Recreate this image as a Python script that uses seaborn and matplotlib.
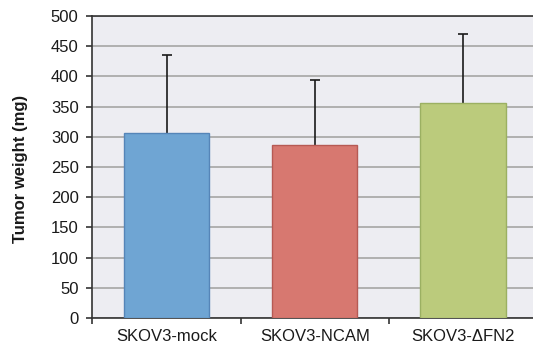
import matplotlib
matplotlib.use("Agg")
import matplotlib.pyplot as plt
import seaborn as sns
import pandas as pd
import numpy as np

groups = ["SKOV3-mock", "SKOV3-NCAM", "SKOV3-\u0394FN2"]
weights = [306, 287, 356]
errors = [129, 107, 114]
colors = ["#6FA5D3", "#D77870", "#BBCB7C"]
edges = ["#5585B8", "#B65A54", "#9BB062"]
y_ticks = [0, 50, 100, 150, 200, 250, 300, 350, 400, 450, 500]

sns.set_theme(style="white")
plt.rcParams["font.family"] = ["Liberation Sans", "DejaVu Sans"]

df = pd.DataFrame({"group": groups, "weight": weights})

fig = plt.figure(figsize=(5.33, 3.44), dpi=100)
ax = fig.add_axes([0.1735, 0.0756, 0.834, 0.878])
ax.set_facecolor("#EDEDF2")

sns.barplot(data=df, x="group", y="weight", hue="group", palette=colors,
            saturation=1, width=0.575, legend=False, ax=ax, zorder=3)
for patch, ec in zip(ax.patches, edges):
    patch.set_edgecolor(ec)
    patch.set_linewidth(1.0)

# upper-only error bars: hide the cap that would sit on the bar top
eb = ax.errorbar(range(len(groups)), weights, yerr=[[0] * len(errors), errors],
                 fmt="none", ecolor="#1a1a1a", elinewidth=1.2, capsize=3.5,
                 capthick=1.2, zorder=2.5)
for cap in eb[1]:
    if np.allclose(cap.get_ydata(), weights):
        cap.set_visible(False)

ax.set_ylim(0, 500)
ax.set_xlim(-0.5, 2.5)
ax.set_yticks(y_ticks)
ax.yaxis.grid(True, color="#ABABAB", linewidth=1.3, zorder=0)
ax.set_axisbelow(True)

ax.set_xticks(range(len(groups)))
ax.set_xticklabels(groups, fontsize=12, color="#1a1a1a")
ax.set_xticks([-0.5, 0.5, 1.5, 2.5], minor=True)
ax.tick_params(axis="x", which="major", length=0, pad=8)
ax.tick_params(axis="x", which="minor", length=4, width=1.2, color="#333333",
               bottom=True, direction="out")
ax.tick_params(axis="y", length=4, width=1.2, color="#333333", left=True,
               labelsize=12, labelcolor="#1a1a1a", pad=6)

ax.set_xlabel("")
ax.set_ylabel("")
fig.text(0.038, 0.51, "Tumor weight (mg)", rotation=90, ha="center",
         va="center", fontsize=12, fontweight="bold", color="#1a1a1a")

for side in ["left", "bottom", "top"]:
    ax.spines[side].set_visible(True)
    ax.spines[side].set_color("#333333")
    ax.spines[side].set_linewidth(1.2)
ax.spines["right"].set_visible(False)

fig.savefig("out.png", dpi=100)
